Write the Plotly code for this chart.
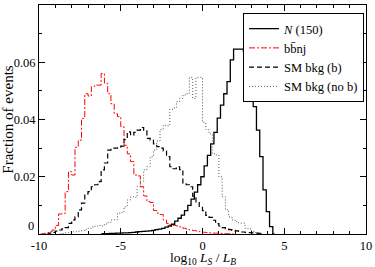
import plotly.graph_objects as go

BIN = 0.2

# N (150): first bin centre and bin contents
n150_start = -6.0
n150_vals = [0.0001, 0.0001, 0.0002, 0.0002, 0.0003, 0.0003, 0.0004, 0.0004, 0.0005, 0.0006,
             0.0007, 0.0008, 0.0009, 0.0010, 0.0011, 0.0013, 0.0015, 0.0017, 0.0020, 0.0024,
             0.0028, 0.0034, 0.0045, 0.0055, 0.0066, 0.0082, 0.0100, 0.0122, 0.0146, 0.0172,
             0.0200, 0.0238, 0.0275, 0.0315, 0.0355, 0.0405, 0.0450, 0.0490, 0.0532, 0.0608,
             0.0646, 0.0646, 0.0646, 0.0637, 0.0600, 0.0527, 0.0445, 0.0363, 0.0270, 0.0154,
             0.0078, 0.0026]

# b bbar n j
bbnj_start = -9.7
bbnj_vals = [0.0002, 0.0004, 0.0008, 0.0014, 0.0030, 0.0070, 0.0071, 0.0148, 0.0218, 0.0206,
             0.0303, 0.0328, 0.0404, 0.0490, 0.0482, 0.0515, 0.0520, 0.0520, 0.0561, 0.0526,
             0.0490, 0.0455, 0.0420, 0.0410, 0.0375, 0.0310, 0.0280, 0.0253, 0.0206, 0.0203,
             0.0165, 0.0133, 0.0113, 0.0110, 0.0082, 0.0073, 0.0068, 0.0049, 0.0037, 0.0032,
             0.0030, 0.0028, 0.0025, 0.0020, 0.0016, 0.0014, 0.0012, 0.0010, 0.0008, 0.0006,
             0.0005, 0.0004, 0.0003, 0.0003, 0.0002, 0.0002, 0.0001, 0.0001]

# SM bkg (b)
smb_start = -9.3
smb_vals = [0.0003, 0.0006, 0.0010, 0.0014, 0.0018, 0.0022, 0.0037, 0.0049, 0.0060, 0.0084,
            0.0108, 0.0140, 0.0148, 0.0165, 0.0172, 0.0183, 0.0224, 0.0248, 0.0293, 0.0300,
            0.0300, 0.0303, 0.0307, 0.0330, 0.0357, 0.0345, 0.0355, 0.0363, 0.0372, 0.0360,
            0.0334, 0.0328, 0.0315, 0.0305, 0.0300, 0.0290, 0.0270, 0.0235, 0.0228, 0.0235,
            0.0225, 0.0178, 0.0172, 0.0165, 0.0132, 0.0112, 0.0093, 0.0082, 0.0065, 0.0058,
            0.0048, 0.0036, 0.0028, 0.0022, 0.0018, 0.0015, 0.0013, 0.0011, 0.0009, 0.0007,
            0.0006, 0.0005, 0.0004, 0.0003, 0.0002]

# SM bkg (no b)
smnob_start = -8.5
smnob_vals = [0.0002, 0.0004, 0.0006, 0.0008, 0.0008, 0.0010, 0.0012, 0.0016, 0.0020, 0.0024,
              0.0027, 0.0030, 0.0028, 0.0035, 0.0040, 0.0049, 0.0050, 0.0073, 0.0075, 0.0095,
              0.0119, 0.0130, 0.0128, 0.0165, 0.0185, 0.0224, 0.0235, 0.0270, 0.0293, 0.0325,
              0.0365, 0.0380, 0.0378, 0.0436, 0.0440, 0.0462, 0.0474, 0.0486, 0.0490, 0.0547,
              0.0474, 0.0547, 0.0547, 0.0390, 0.0365, 0.0350, 0.0280, 0.0276, 0.0200, 0.0130,
              0.0084, 0.0060, 0.0049, 0.0043, 0.0038, 0.0038, 0.0020, 0.0018, 0.0009, 0.0005,
              0.0003]

x_ticks = [-10, -5, 0, 5, 10]
y_ticks = [0, 0.02, 0.04, 0.06, 0.08]
y_tick_text = ["", "0.02", "0.04", "0.06", "0.08"]
y_zero_label = "0"
x_title = "log<sub>10</sub> <i>L<sub>S</sub></i> / <i>L<sub>B</sub></i>"
y_title = "Fraction of events"


def hist_xy(start, vals):
    # pad with empty bins on both sides so the step closes at zero
    xs = [start - BIN] + [start + i * BIN for i in range(len(vals))] + [start + len(vals) * BIN]
    ys = [0.0] + list(vals) + [0.0]
    return xs, ys


series = [
    ("<i>N</i> (150)", n150_start, n150_vals, "black", "solid", 1.3),
    ("bb\u0304nj", bbnj_start, bbnj_vals, "#ff0000", "6px,2px,2px,2px", 1.0),
    ("SM bkg (b)", smb_start, smb_vals, "black", "5px,3px", 1.2),
    ("SM bkg (no b)", smnob_start, smnob_vals, "#555555", "1px,2px", 1.0),
]

fig = go.Figure()
for name, start, vals, color, dash, w in series:
    xs, ys = hist_xy(start, vals)
    fig.add_trace(go.Scatter(x=xs, y=ys, mode="lines", name=name,
                             line=dict(shape="hvh", color=color, dash=dash, width=w)))

font_family = "Liberation Serif, Times New Roman, serif"
axis_common = dict(
    showline=True, linecolor="black", linewidth=1, mirror="allticks",
    ticks="inside", ticklen=6, tickcolor="black", tickwidth=1,
    showgrid=False, zeroline=False,
    tickfont=dict(family=font_family, size=12.5, color="black"),
)

fig.update_xaxes(range=[-10, 10], tickvals=x_ticks, ticktext=[str(v) for v in x_ticks],
                 minor=dict(ticks="inside", dtick=1, ticklen=3, tickcolor="black"),
                 **axis_common)
fig.update_yaxes(range=[0, 0.08], tickvals=y_ticks, ticktext=y_tick_text,
                 minor=dict(ticks="inside", dtick=0.01, ticklen=3, tickcolor="black"),
                 title=dict(text=y_title,
                            font=dict(family=font_family, size=15, color="black"), standoff=3),
                 **axis_common)

# y "0" label sits a little above the axis corner, as in the original
fig.add_annotation(text=y_zero_label, xref="paper", yref="paper", x=-0.008, y=0.035,
                   xanchor="right", yanchor="middle", showarrow=False,
                   font=dict(family=font_family, size=12.5, color="black"))
fig.add_annotation(text=x_title, xref="paper", yref="paper", x=0.5, y=-0.105,
                   xanchor="center", yanchor="middle", showarrow=False,
                   font=dict(family=font_family, size=13.5, color="black"))

fig.update_layout(
    width=375, height=267,
    margin=dict(l=39, r=9, t=5, b=33, autoexpand=False),
    paper_bgcolor="white", plot_bgcolor="white",
    showlegend=True,
    legend=dict(x=0.994, y=0.965, xanchor="right", yanchor="top",
                bgcolor="white", bordercolor="black", borderwidth=1,
                font=dict(family=font_family, size=12.5, color="black"),
                itemwidth=30, tracegroupgap=0),
)

fig.write_html("out.html", config={"displayModeBar": False},
               post_script="document.body.style.margin='0';document.body.style.overflow='hidden';")
